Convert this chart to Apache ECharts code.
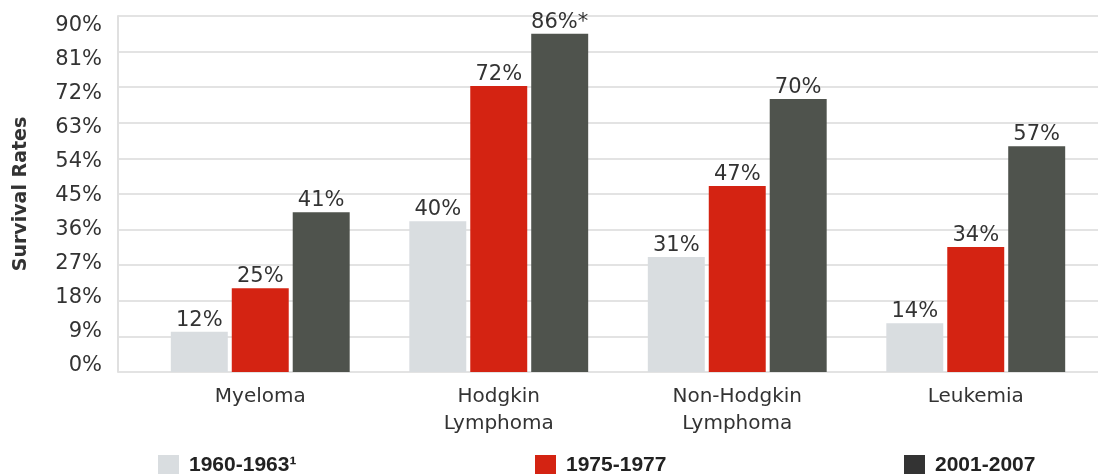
<!DOCTYPE html>
<html><head><meta charset="utf-8">
<script src="https://cdn.jsdelivr.net/npm/echarts@6/dist/echarts.min.js"></script>
<style>html,body{margin:0;padding:0;background:#fff}#c{width:1101px;height:474px}</style>
</head><body><div id="c"></div>
<script>
const categories = ['Myeloma', 'Hodgkin\nLymphoma', 'Non-Hodgkin\nLymphoma', 'Leukemia'];
const seriesNames = ['1960-1963\u00b9', '1975-1977', '2001-2007'];
// bar heights as drawn in the picture
const values1960 = [10.2, 38.1, 29.1, 12.3];
const values1975 = [21.2, 72.3, 47.0, 31.6];
const values2001 = [40.4, 85.5, 69.0, 57.1];
// printed labels
const labels1960 = ['12%', '40%', '31%', '14%'];
const labels1975 = ['25%', '72%', '47%', '34%'];
const labels2001 = ['41%', '86%*', '70%', '57%'];
const yTicks = { min: 0, max: 90, interval: 9 };

const colors = ['#d9dde0', '#d42312', '#4f534d'];
const legendColors = ['#d9dde0', '#d42312', '#333333'];
const allValues = [values1960, values1975, values2001];
const allLabels = [labels1960, labels1975, labels2001];
const font = 'DejaVu Sans, sans-serif';
const boldFont = 'Liberation Sans, Arial, sans-serif';

const chart = echarts.init(document.getElementById('c'));
const series = seriesNames.map((n, i) => ({
  name: n, type: 'bar', xAxisIndex: 0, yAxisIndex: 0,
  data: allValues[i],
  barGap: '7%', barCategoryGap: '25%',
  itemStyle: { color: colors[i] },
  label: { show: true, position: 'top', distance: 1, color: '#333', fontSize: 21, fontFamily: font,
    formatter: p => allLabels[i][p.dataIndex] }
}));
const legends = [158, 535, 904].map((x, i) => ({
  left: x, top: 455, padding: 0, itemWidth: 21, itemHeight: 21, itemGap: 0,
  icon: 'rect', data: [{ name: seriesNames[i], itemStyle: { color: legendColors[i] } }],
  textStyle: { fontSize: 21, fontWeight: 'bold', color: '#222', fontFamily: boldFont, padding: [0, 0, 3, 5] },
  selectedMode: false
}));
chart.setOption({
  animation: false,
  legend: legends,
  grid: [
    { left: 141, right: 6, top: 16, bottom: 102, outerBoundsMode: 'none' },
    { left: 118, right: 3, top: 16, bottom: 102, outerBoundsMode: 'none' },
    { left: 118, right: 3, top: 26, bottom: 108, outerBoundsMode: 'none' }
  ],
  xAxis: [
    { type: 'category', gridIndex: 0, data: categories,
      axisLine: { show: false }, axisTick: { show: false },
      axisLabel: { color: '#333', fontSize: 20, fontFamily: font, lineHeight: 27, margin: 11 } },
    { type: 'value', gridIndex: 1, show: false, min: 0, max: 1 },
    { type: 'value', gridIndex: 2, show: false, min: 0, max: 1 }
  ],
  yAxis: [
    { type: 'value', gridIndex: 0, min: yTicks.min, max: yTicks.max, interval: yTicks.interval, show: false },
    { type: 'value', gridIndex: 1, min: yTicks.min, max: yTicks.max, interval: yTicks.interval,
      axisLine: { show: true, lineStyle: { color: '#e0e0e0', width: 2 } }, axisTick: { show: false },
      splitLine: { lineStyle: { color: '#e3e3e3', width: 2 } },
      axisLabel: { show: false },
      name: 'Survival Rates', nameLocation: 'middle', nameRotate: 90, nameGap: 87,
      nameTextStyle: { fontSize: 19, fontWeight: 'bold', color: '#333', fontFamily: font } },
    { type: 'value', gridIndex: 2, min: yTicks.min, max: yTicks.max, interval: yTicks.interval,
      axisLine: { show: false }, axisTick: { show: false }, splitLine: { show: false },
      axisLabel: { formatter: '{value}%', color: '#333', fontSize: 21, fontFamily: font, margin: 16 } }
  ],
  series: series
});
</script></body></html>
